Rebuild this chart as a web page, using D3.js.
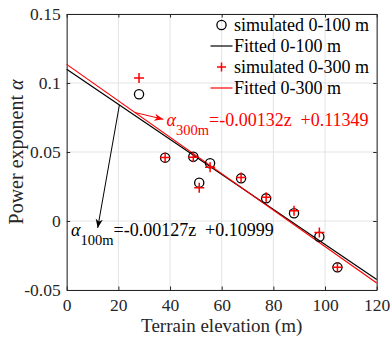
<!DOCTYPE html>
<html>
<head>
<meta charset="utf-8">
<script src="https://cdn.jsdelivr.net/npm/d3@7"></script>
<style>
  body { margin: 0; background: #fff; }
  #chart, #chart text { font-family: 'Liberation Serif', 'Times New Roman', serif; }
</style>
</head>
<body>
<svg id="chart" width="390" height="337" style="font-family:'Liberation Serif'"></svg>
<script>
// terrain elevation of each site (m)
const elevation = [28.0, 38.1, 49.0, 51.3, 55.5, 67.5, 77.2, 88.0, 97.8, 104.8];
// simulated power exponent, 0-100 m and 0-300 m
const alpha100 = [0.0918, 0.0459, 0.0466, 0.0278, 0.0418, 0.0309, 0.0164, 0.0056, -0.0114, -0.0336];
const alpha300 = [0.1036, 0.0460, 0.0462, 0.0241, 0.0389, 0.0316, 0.0173, 0.0075, -0.0083, -0.0336];

// linear fits  alpha = slope*z + intercept
const fit100 = { slope: -0.00127, intercept: 0.10999 };
const fit300 = { slope: -0.00132, intercept: 0.11349 };
const fitRange = [0, 120];

const xTicks = [0, 20, 40, 60, 80, 100, 120];
const yTicks = [-0.05, 0, 0.05, 0.1, 0.15];
const yTickLabels = ['-0.05', '0', '0.05', '0.1', '0.15'];

const legendLabels = ['simulated 0-100 m', 'Fitted 0-100 m', 'simulated 0-300 m', 'Fitted 0-300 m'];

const FONT = 'Liberation Serif';
const width = 390, height = 337;
const margin = { top: 14, right: 13.3, bottom: 47, left: 66.7 };

const svg = d3.select('#chart')
  .attr('font-family', FONT);

const x = d3.scaleLinear().domain([0, 120]).range([margin.left, width - margin.right]);
const y = d3.scaleLinear().domain([-0.05, 0.15]).range([height - margin.bottom, margin.top]);

const x0 = x.range()[0], x1 = x.range()[1];
const y0 = y.range()[0], y1 = y.range()[1];

// grid
svg.append('g')
  .selectAll('line')
  .data(xTicks)
  .join('line')
  .attr('x1', d => x(d)).attr('x2', d => x(d))
  .attr('y1', y0).attr('y2', y1)
  .attr('stroke', '#e3e3e3').attr('stroke-width', 1);
svg.append('g')
  .selectAll('line')
  .data(yTicks)
  .join('line')
  .attr('x1', x0).attr('x2', x1)
  .attr('y1', d => y(d)).attr('y2', d => y(d))
  .attr('stroke', '#e3e3e3').attr('stroke-width', 1);

// axes (box with inward ticks on all sides)
const tickLen = 3.5;
const xAxis = d3.axisBottom(x).tickValues(xTicks).tickSizeInner(-tickLen).tickSizeOuter(0).tickPadding(8.5);
const yAxis = d3.axisLeft(y).tickValues(yTicks).tickSizeInner(-tickLen).tickSizeOuter(0).tickPadding(6)
  .tickFormat((d, i) => yTickLabels[i]);

svg.append('g').attr('transform', `translate(0,${y0})`).call(xAxis);
svg.append('g').attr('transform', `translate(${x0},0)`).call(yAxis);
svg.append('g').attr('transform', `translate(0,${y1})`)
  .call(d3.axisTop(x).tickValues(xTicks).tickSizeInner(-tickLen).tickSizeOuter(0).tickFormat(''));
svg.append('g').attr('transform', `translate(${x1},0)`)
  .call(d3.axisRight(y).tickValues(yTicks).tickSizeInner(-tickLen).tickSizeOuter(0).tickFormat(''));

// d3 axis puts font-family="sans-serif" on its group, undo that
svg.selectAll('g').filter(function () { return this.hasAttribute('font-family'); })
  .attr('font-family', FONT).attr('font-size', 17.5);

svg.selectAll('.domain').attr('stroke', '#262626').attr('stroke-width', 1);
svg.selectAll('.tick line').attr('stroke', '#262626');
svg.selectAll('.tick text').attr('fill', '#262626');

// axis labels
svg.append('text')
  .attr('x', (x0 + x1) / 2).attr('y', 332)
  .attr('text-anchor', 'middle')
  .attr('fill', '#262626')
  .attr('font-size', 19)
  .text('Terrain elevation (m)');

const ylab = svg.append('text')
  .attr('transform', `translate(23,${(y0 + y1) / 2}) rotate(-90)`)
  .attr('text-anchor', 'middle')
  .attr('fill', '#262626')
  .attr('font-size', 20);
ylab.append('tspan').text('Power exponent ');
ylab.append('tspan').attr('font-style', 'italic').text('α');

// fitted lines
const line = fit => d3.line()
  .x(d => x(d))
  .y(d => y(fit.slope * d + fit.intercept));

svg.append('path')
  .datum(fitRange)
  .attr('fill', 'none').attr('stroke', '#000').attr('stroke-width', 1.2)
  .attr('d', line(fit100));
svg.append('path')
  .datum(fitRange)
  .attr('fill', 'none').attr('stroke', '#ff0000').attr('stroke-width', 1.2)
  .attr('d', line(fit300));

// simulated points
const plus = (g, s) => g.append('path')
  .attr('d', `M${-s},0H${s}M0,${-s}V${s}`)
  .attr('stroke', '#ff0000').attr('stroke-width', 1.5).attr('fill', 'none');

svg.append('g')
  .selectAll('circle')
  .data(elevation)
  .join('circle')
  .attr('cx', d => x(d))
  .attr('cy', (d, i) => y(alpha100[i]))
  .attr('r', 4.6)
  .attr('fill', 'none').attr('stroke', '#000').attr('stroke-width', 1.3);

svg.append('g')
  .selectAll('g')
  .data(elevation)
  .join('g')
  .attr('transform', (d, i) => `translate(${x(d)},${y(alpha300[i])})`)
  .each(function () { plus(d3.select(this), 5); });

// arrow heads
const defs = svg.append('defs');
[['arrowK', '#000'], ['arrowR', '#ff0000']].forEach(([id, c]) => {
  defs.append('marker')
    .attr('id', id)
    .attr('viewBox', '0 0 10 10')
    .attr('refX', 10).attr('refY', 5)
    .attr('markerWidth', 9).attr('markerHeight', 9)
    .attr('markerUnits', 'userSpaceOnUse')
    .attr('orient', 'auto')
    .append('path')
    .attr('d', 'M0,1L10,5L0,9L3,5Z')
    .attr('fill', c);
});

// annotations: arrow from fitted line to equation text
const annotations = [
  { fit: fit300, from: 26.4, to: [37.4, 0.0737], color: '#ff0000', marker: 'arrowR', sub: '300m', tx: 166.5, ty: 126 },
  { fit: fit100, from: 20.4, to: [12.0, -0.0050], color: '#000', marker: 'arrowK', sub: '100m', tx: 71, ty: 235.5 }
];

annotations.forEach(a => {
  svg.append('line')
    .attr('x1', x(a.from)).attr('y1', y(a.fit.slope * a.from + a.fit.intercept))
    .attr('x2', x(a.to[0])).attr('y2', y(a.to[1]))
    .attr('stroke', a.color).attr('stroke-width', 1)
    .attr('marker-end', `url(#${a.marker})`);

  const t = svg.append('text')
    .attr('x', a.tx).attr('y', a.ty)
    .attr('fill', a.color)
    .attr('xml:space', 'preserve')
    .style('white-space', 'pre')
    .attr('font-size', 18);
  t.append('tspan').attr('font-style', 'italic').text('α');
  t.append('tspan').attr('dy', 9).attr('font-size', 14.5).text(a.sub);
  t.append('tspan').attr('dy', -9)
    .text(`=${a.fit.slope.toFixed(5)}z  +${a.fit.intercept.toFixed(5)}`);
});

// legend (no box)
const lg = svg.append('g');
const rowY = [25, 46, 67, 88];
const symX = 221.5;
legendLabels.forEach((lab, i) => {
  const cy = rowY[i];
  if (i === 0) {
    lg.append('circle').attr('cx', symX).attr('cy', cy).attr('r', 4.6)
      .attr('fill', 'none').attr('stroke', '#000').attr('stroke-width', 1.3);
  } else if (i === 2) {
    plus(lg.append('g').attr('transform', `translate(${symX},${cy})`), 4.5);
  } else {
    lg.append('line').attr('x1', symX - 11).attr('x2', symX + 11)
      .attr('y1', cy).attr('y2', cy)
      .attr('stroke', i === 1 ? '#000' : '#ff0000').attr('stroke-width', 1.2);
  }
  lg.append('text')
    .attr('x', 234).attr('y', cy + 5.5)
    .attr('fill', '#000')
    .attr('font-size', 18)
    .text(lab);
});
</script>
</body>
</html>
